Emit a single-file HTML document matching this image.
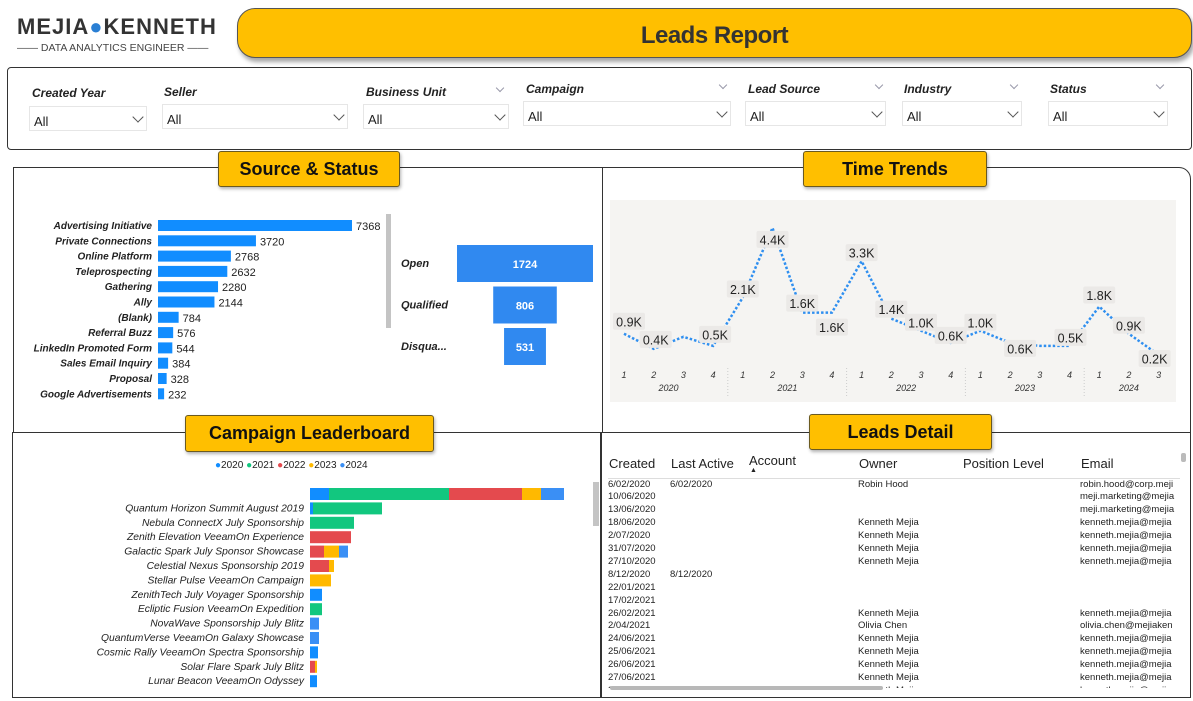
<!DOCTYPE html>
<html><head><meta charset="utf-8">
<style>
body{margin:0;background:#fff;font-family:"Liberation Sans",sans-serif;}
#root{position:relative;width:1193px;height:701px;overflow:hidden;}
.abs{position:absolute;}
.hdr{position:absolute;background:#FFBF00;border:1px solid #6b5a20;border-radius:3px;font-weight:bold;text-align:center;color:#111;box-shadow:1px 2px 3px rgba(0,0,0,.3);}
.flabel{position:absolute;font-size:12px;font-style:italic;font-weight:bold;color:#222;}
.fbox{position:absolute;border:1px solid #e6e6e6;font-size:13px;color:#222;box-sizing:border-box;padding:7px 0 0 4px;height:25px;}
.chev{position:absolute;right:4px;top:6px;width:7px;height:7px;border-right:1px solid #555;border-bottom:1px solid #555;transform:rotate(45deg);}
.chev2{position:absolute;width:5px;height:5px;border-right:1px solid #99a;border-bottom:1px solid #99a;transform:rotate(45deg);}
.panel{position:absolute;border:1.5px solid #333;box-sizing:border-box;}
table{border-collapse:collapse;}
</style></head>
<body>
<div id="root">
 <div class="abs" style="left:17px;top:14px;width:215px;">
  <div style="font-size:22px;font-weight:bold;color:#333;letter-spacing:1px;">MEJIA<span style="color:#2a7fd4">●</span>KENNETH</div>
  <div style="font-size:10.5px;color:#444;margin-top:2px;">—— DATA ANALYTICS ENGINEER ——</div>
 </div>
 <div class="abs" style="left:237px;top:8px;width:955px;height:50px;background:#FFBF00;border:1px solid #555;border-radius:18px;box-sizing:border-box;box-shadow:2px 4px 4px rgba(0,0,0,.35);text-align:center;line-height:54px;font-size:24px;font-weight:bold;color:#333;letter-spacing:-0.5px;">Leads Report</div>

 <div class="panel" style="left:7px;top:67px;width:1185px;height:83px;border-radius:4px;"></div>
 <div class="flabel" style="left:32px;top:86px">Created Year</div>
 <div class="fbox" style="left:29px;top:106px;width:118px">All<div class="chev"></div></div>
 <div class="flabel" style="left:164px;top:85px">Seller</div>
 <div class="fbox" style="left:162px;top:104px;width:186px">All<div class="chev"></div></div>
 <div class="flabel" style="left:366px;top:85px">Business Unit</div>
 <div class="chev2" style="left:497px;top:85px"></div>
 <div class="fbox" style="left:363px;top:104px;width:146px">All<div class="chev"></div></div>
 <div class="flabel" style="left:526px;top:82px">Campaign</div>
 <div class="chev2" style="left:720px;top:82px"></div>
 <div class="fbox" style="left:523px;top:101px;width:208px">All<div class="chev"></div></div>
 <div class="flabel" style="left:748px;top:82px">Lead Source</div>
 <div class="chev2" style="left:876px;top:82px"></div>
 <div class="fbox" style="left:745px;top:101px;width:141px">All<div class="chev"></div></div>
 <div class="flabel" style="left:904px;top:82px">Industry</div>
 <div class="chev2" style="left:1011px;top:82px"></div>
 <div class="fbox" style="left:902px;top:101px;width:120px">All<div class="chev"></div></div>
 <div class="flabel" style="left:1050px;top:82px">Status</div>
 <div class="chev2" style="left:1157px;top:82px"></div>
 <div class="fbox" style="left:1048px;top:101px;width:120px">All<div class="chev"></div></div>

 <div class="panel" style="left:13px;top:167px;width:590px;height:266px;"></div>
 <div class="panel" style="left:602px;top:167px;width:589px;height:266px;border-top-right-radius:12px;"></div>
 <div class="panel" style="left:12px;top:432px;width:589px;height:266px;"></div>
 <div class="panel" style="left:601px;top:432px;width:590px;height:266px;"></div>

 <svg class="abs" style="left:0;top:0" width="1193" height="701">
  <g id="src"></g><g id="fun"></g>
  <rect x="610" y="200" width="566" height="202" fill="#f5f4f2"/>
  <g id="tt"></g><g id="camp"></g>
  <rect x="386" y="214" width="5" height="114" fill="#c4c4c4"/>
  <rect x="593" y="482" width="6" height="44" fill="#c4c4c4"/>
 </svg>

 <div class="hdr" style="left:218px;top:151px;width:180px;height:34px;line-height:34px;font-size:18px">Source &amp; Status</div>
 <div class="hdr" style="left:803px;top:151px;width:182px;height:34px;line-height:34px;font-size:18px">Time Trends</div>
 <div class="hdr" style="left:185px;top:415px;width:247px;height:35px;line-height:35px;font-size:18px">Campaign Leaderboard</div>
 <div class="hdr" style="left:809px;top:414px;width:181px;height:34px;line-height:34px;font-size:18px">Leads Detail</div>

 <div class="abs" style="left:215px;top:460px;font-size:10px;color:#222;white-space:nowrap;">
  <span style="color:#118dff">●</span>2020 <span style="color:#12c77f">●</span>2021 <span style="color:#e44a4e">●</span>2022 <span style="color:#ffb900">●</span>2023 <span style="color:#3a8ff5">●</span>2024
 </div>

 <div class="abs" style="left:608px;top:450px;width:572px;height:238px;overflow:hidden;">
  <table id="tbl" style="font-size:9.5px;color:#222;table-layout:fixed;width:620px;">
   <colgroup><col style="width:62px"><col style="width:78px"><col style="width:110px"><col style="width:104px"><col style="width:118px"><col style="width:148px"></colgroup>
   <tr style="font-size:13px;height:28px;border-bottom:1px solid #ddd;">
    <td style="vertical-align:middle">Created</td><td>Last Active</td><td>Account<div style="font-size:7px;line-height:6px;padding-left:1px">▲</div></td><td>Owner</td><td>Position Level</td><td>Email</td></tr>
  </table>
 </div>
 <div class="abs" style="left:610px;top:686px;width:273px;height:4px;background:#b8b8b8;border-radius:2px;"></div>
 <div class="abs" style="left:1181px;top:453px;width:5px;height:9px;background:#bbb;border-radius:2px;"></div>
</div>
<script>
const NS="http://www.w3.org/2000/svg";
function mk(p,t,a){const e=document.createElementNS(NS,t);for(const k in a)e.setAttribute(k,a[k]);p.appendChild(e);return e;}

// Source chart
const srcCats=["Advertising Initiative","Private Connections","Online Platform","Teleprospecting","Gathering","Ally","(Blank)","Referral Buzz","LinkedIn Promoted Form","Sales Email Inquiry","Proposal","Google Advertisements"];
const srcVals=[7368,3720,2768,2632,2280,2144,784,576,544,384,328,232];
const src=document.getElementById('src');
const sx=v=>v*194/7368, sy=i=>220+i*15.3;
srcCats.forEach((c,i)=>{
 const r=mk(src,'rect',{x:158,y:sy(i),width:sx(srcVals[i]),height:11,fill:'#118dff'});
 
 
 const t=mk(src,'text',{x:152,y:sy(i)+9,'text-anchor':'end','font-size':10,'font-style':'italic','font-weight':'bold',fill:'#222'});t.textContent=c;
 
 
 const v=mk(src,'text',{x:158+sx(srcVals[i])+4,y:sy(i)+10,'font-size':11,fill:'#222'});v.textContent=srcVals[i];
 
 
});

// Funnel
const funCats=["Open","Qualified","Disqua..."];
const funVals=[1724,806,531];
const fun=document.getElementById('fun');
funCats.forEach((c,i)=>{
 const w=funVals[i]*136/1724, y=245+i*41.5;
 const r=mk(fun,'rect',{x:525-w/2,y:y,width:w,height:37,fill:'#3089f0'});
 
 
 const v=mk(fun,'text',{x:525,y:y+23,'text-anchor':'middle','font-size':11,'font-weight':'bold',fill:'#fff'});v.textContent=funVals[i];
 
 
 const t=mk(fun,'text',{x:401,y:y+22,'font-size':11,'font-style':'italic','font-weight':'bold',fill:'#222'});t.textContent=c;
 
 
});

// Time trends
const ttYears=["2020","2021","2022","2023","2024"];
const ttQuarters=["1","2","3","4","1","2","3","4","1","2","3","4","1","2","3","4","1","2","3"];
const ttVals=[0.9,0.4,0.8,0.5,2.1,4.4,1.6,1.6,3.3,1.4,1.0,0.6,1.0,0.6,0.5,0.5,1.8,0.9,0.2];
const ttLabels=["0.9K","0.4K","","0.5K","2.1K","4.4K","1.6K","1.6K","3.3K","1.4K","1.0K","0.6K","1.0K","0.6K","","0.5K","1.8K","0.9K","0.2K"];
const labDx=[5,2,0,2,0,0,0,0,0,0,0,0,0,10,0,1,0,0,-4];
const labDy=[-12,-9,0,-11,-8,12,-9,15,-8,-9,-8,-7,-8,6,0,-8,-11,-8,4];
const tt=document.getElementById('tt');
const tx=i=>624+i*29.7, ty=v=>361-v*30.25;
const line=mk(tt,'polyline',{points:ttVals.map((v,i)=>tx(i)+','+ty(v)).join(' '),fill:'none',stroke:'#2f8ff0','stroke-width':2.5,'stroke-dasharray':'2.5 2'});


ttVals.forEach((v,i)=>{
 if(!ttLabels[i])return;
 const cx=tx(i)+labDx[i], cy=ty(v)+labDy[i];
 const bg=mk(tt,'rect',{x:cx-16,y:cy-9,width:32,height:17,fill:'#ebe9e7',rx:2});
 
 
 const t=mk(tt,'text',{x:cx,y:cy+4.5,'text-anchor':'middle','font-size':12.5,fill:'#222'});t.textContent=ttLabels[i];
 
 
});
ttQuarters.forEach((q,i)=>{
 const t=mk(tt,'text',{x:tx(i),y:378,'text-anchor':'middle','font-size':9,'font-style':'italic',fill:'#333'});t.textContent=q;
 
 
});
ttYears.forEach((y,k)=>{
 const mid=k<4?(tx(k*4)+tx(k*4+3))/2:(tx(16)+tx(18))/2;
 const t=mk(tt,'text',{x:mid,y:391,'text-anchor':'middle','font-size':9,'font-style':'italic',fill:'#333'});t.textContent=y;
 
 
 if(k>0){const l=mk(tt,'line',{x1:tx(k*4)-15,x2:tx(k*4)-15,y1:368,y2:396,stroke:'#ccc','stroke-dasharray':'1 2'});
 
 }
});

// Campaign leaderboard
const campCats=["","Quantum Horizon Summit August 2019","Nebula ConnectX July Sponsorship","Zenith Elevation VeeamOn Experience","Galactic Spark July Sponsor Showcase","Celestial Nexus Sponsorship 2019","Stellar Pulse VeeamOn Campaign","ZenithTech July Voyager Sponsorship","Ecliptic Fusion VeeamOn Expedition","NovaWave Sponsorship July Blitz","QuantumVerse VeeamOn Galaxy Showcase","Cosmic Rally VeeamOn Spectra Sponsorship","Solar Flare Spark July Blitz","Lunar Beacon VeeamOn Odyssey"];
const c2020=[19,3,0,0,0,0,0,12,0,0,0,8,0,7];
const c2021=[120,69,44,0,0,0,0,0,12,0,0,0,0,0];
const c2022=[73,0,0,41,14,19,0,0,0,0,0,0,5,0];
const c2023=[19,0,0,0,15,5,21,0,0,0,0,0,2,0];
const c2024=[23,0,0,0,9,0,0,0,0,9,9,0,0,0];
const campSeries=[c2020,c2021,c2022,c2023,c2024];
const campColors=['#118dff','#12c77f','#e44a4e','#ffb900','#3a8ff5'];
const camp=document.getElementById('camp');
const cx0=310, cyf=i=>488+i*14.4;
campCats.forEach((c,i)=>{
 let x=cx0;
 campSeries.forEach((s,k)=>{
  if(s[i]>0){const r=mk(camp,'rect',{x:x,y:cyf(i),width:s[i],height:12,fill:campColors[k]});
  
  
  x+=s[i];}
 });
 if(c){const t=mk(camp,'text',{x:304,y:cyf(i)+9,'text-anchor':'end','font-size':10.3,'font-style':'italic',fill:'#222'});t.textContent=c;
 
 }
});

// Table
const rows=[["6/02/2020","6/02/2020","","Robin Hood","","robin.hood@corp.meji"],["10/06/2020","","","","","meji.marketing@mejia"],["13/06/2020","","","","","meji.marketing@mejia"],["18/06/2020","","","Kenneth Mejia","","kenneth.mejia@mejia"],["2/07/2020","","","Kenneth Mejia","","kenneth.mejia@mejia"],["31/07/2020","","","Kenneth Mejia","","kenneth.mejia@mejia"],["27/10/2020","","","Kenneth Mejia","","kenneth.mejia@mejia"],["8/12/2020","8/12/2020","","","",""],["22/01/2021","","","","",""],["17/02/2021","","","","",""],["26/02/2021","","","Kenneth Mejia","","kenneth.mejia@mejia"],["2/04/2021","","","Olivia Chen","","olivia.chen@mejiaken"],["24/06/2021","","","Kenneth Mejia","","kenneth.mejia@mejia"],["25/06/2021","","","Kenneth Mejia","","kenneth.mejia@mejia"],["26/06/2021","","","Kenneth Mejia","","kenneth.mejia@mejia"],["27/06/2021","","","Kenneth Mejia","","kenneth.mejia@mejia"],["28/06/2021","","","Kenneth Mejia","","kenneth.mejia@mejia"]];
const tbl=document.getElementById('tbl');
rows.forEach(r=>{
 const tr=document.createElement('tr');tr.style.height='12.9px';
 
 
 r.forEach(c=>{const td=document.createElement('td');td.textContent=c;td.style.whiteSpace='nowrap';td.style.overflow='hidden';td.style.padding='0';td.style.lineHeight='12.9px';tr.appendChild(td);});
 tbl.appendChild(tr);
});
</script>
</body></html>
